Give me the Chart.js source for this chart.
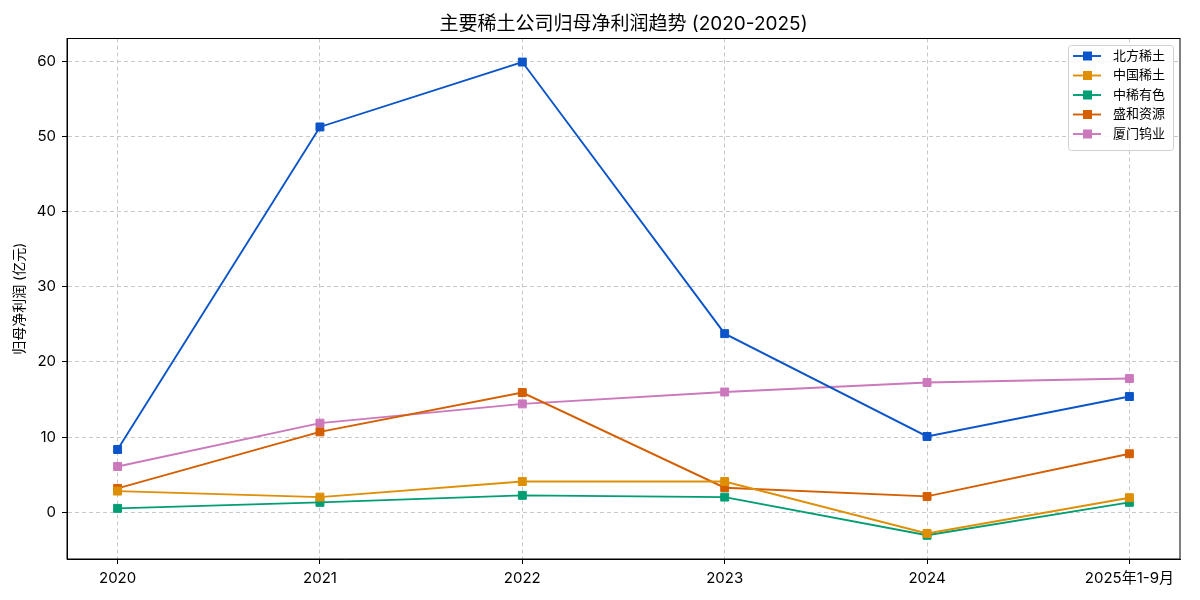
<!DOCTYPE html>
<html>
<head>
<meta charset="utf-8">
<script src="https://cdn.jsdelivr.net/npm/chart.js@4"></script>
<style>
html,body{margin:0;padding:0;background:#fff;}
#wrap{width:1200px;height:600px;}
</style>
</head>
<body>
<div id="wrap"><canvas id="c" width="1200" height="600"></canvas></div>
<script>
const chartTitle = '主要稀土公司归母净利润趋势 (2020-2025)';
const categories = ['2020', '2021', '2022', '2023', '2024', '2025年1-9月'];
const seriesNames = ['北方稀土', '中国稀土', '中稀有色', '盛和资源', '厦门钨业'];
const northernRE = [8.36, 51.24, 59.87, 23.76, 10.09, 15.40];
const chinaRE = [2.83, 2.03, 4.10, 4.10, -2.80, 1.95];
const chinaRareNonferrous = [0.53, 1.33, 2.26, 2.03, -3.05, 1.33];
const shenghe = [3.19, 10.70, 15.93, 3.28, 2.12, 7.79];
const xiamenTungsten = [6.10, 11.86, 14.42, 16.00, 17.26, 17.79];
const yTicks = [0, 10, 20, 30, 40, 50, 60];
const colors = ['#0b55c9', '#de8f05', '#029e73', '#d55e00', '#cc78bc'];

const FONT = 'Inter, "Noto Sans CJK SC", sans-serif';
const allSeries = [northernRE, chinaRE, chinaRareNonferrous, shenghe, xiamenTungsten];

const datasets = allSeries.map((vals, k) => ({
  label: seriesNames[k],
  data: vals.map((v, i) => ({x: i, y: v})),
  borderColor: colors[k],
  backgroundColor: colors[k],
  pointBackgroundColor: colors[k],
  pointBorderColor: colors[k],
  borderWidth: 1.9,
  pointStyle: 'rect',
  pointRadius: 5.6,
  pointBorderWidth: 1,
  tension: 0
}));

const titlePlugin = {
  id: 'centeredTitle',
  afterDraw(chart) {
    const a = chart.chartArea, ctx = chart.ctx;
    ctx.save();
    ctx.font = '19px ' + FONT;
    ctx.fillStyle = '#000';
    ctx.textAlign = 'center';
    ctx.textBaseline = 'middle';
    ctx.fillText(chartTitle, (a.left + a.right) / 2, 24);
    ctx.restore();
  }
};

const framePlugin = {
  id: 'frame',
  afterDatasetsDraw(chart) {
    const a = chart.chartArea, ctx = chart.ctx;
    ctx.save();
    ctx.strokeStyle = '#000';
    ctx.lineWidth = 1;
    ctx.strokeRect(a.left, a.top, a.right - a.left, a.bottom - a.top);
    ctx.restore();
  }
};

const legendPlugin = {
  id: 'boxLegend',
  afterDraw(chart) {
    const ctx = chart.ctx;
    const x0 = 1068.5, y0 = 45.5, w = 105, h = 105;
    ctx.save();
    ctx.fillStyle = 'rgba(255,255,255,0.85)';
    ctx.strokeStyle = '#d0d0d0';
    ctx.lineWidth = 1;
    ctx.beginPath();
    ctx.roundRect(x0, y0, w, h, 3);
    ctx.fill();
    ctx.stroke();
    ctx.font = '13px ' + FONT;
    ctx.textBaseline = 'middle';
    ctx.textAlign = 'left';
    chart.data.datasets.forEach((ds, i) => {
      const cy = 56 + i * 19.5;
      ctx.strokeStyle = ds.borderColor;
      ctx.lineWidth = 1.9;
      ctx.beginPath();
      ctx.moveTo(1073, cy);
      ctx.lineTo(1101, cy);
      ctx.stroke();
      ctx.fillStyle = ds.borderColor;
      ctx.fillRect(1083, cy - 4.5, 9, 9);
      ctx.fillStyle = '#000';
      ctx.fillText(ds.label, 1113, cy);
    });
    ctx.restore();
  }
};

new Chart(document.getElementById('c'), {
  type: 'line',
  data: { datasets },
  options: {
    responsive: false,
    animation: false,
    devicePixelRatio: 1,
    layout: { padding: { left: 0, right: 20, top: 38.5, bottom: 0 } },
    plugins: {
      legend: { display: false },
      tooltip: { enabled: false },
      title: { display: false }
    },
    scales: {
      x: {
        type: 'linear',
        min: -0.25,
        max: 5.25,
        afterBuildTicks(scale) { scale.ticks = categories.map((_, i) => ({ value: i })); },
        afterFit(scale) { scale.height = 41; },
        ticks: {
          callback: (v) => categories[v] ?? '',
          color: '#000',
          font: { family: FONT, size: 15 },
          padding: 5,
          maxRotation: 0,
          autoSkip: false
        },
        grid: { color: '#c8c8c8', lineWidth: 1, tickColor: '#000', tickLength: 5, tickBorderDash: [] },
        border: { display: true, color: '#000', width: 1, dash: [4, 3] }
      },
      y: {
        type: 'linear',
        min: -6.2,
        max: 63.0,
        afterBuildTicks(scale) { scale.ticks = yTicks.map(v => ({ value: v })); },
        afterFit(scale) { scale.width = 67; },
        title: {
          display: true,
          text: '归母净利润 (亿元)',
          color: '#000',
          font: { family: FONT, size: 14 },
          padding: { top: 11, bottom: 2 }
        },
        ticks: {
          color: '#000',
          font: { family: FONT, size: 15 },
          padding: 6
        },
        grid: { color: '#c8c8c8', lineWidth: 1, tickColor: '#000', tickLength: 5, tickBorderDash: [] },
        border: { display: true, color: '#000', width: 1, dash: [4, 3] }
      }
    }
  },
  plugins: [framePlugin, legendPlugin, titlePlugin]
});
</script>
</body>
</html>
